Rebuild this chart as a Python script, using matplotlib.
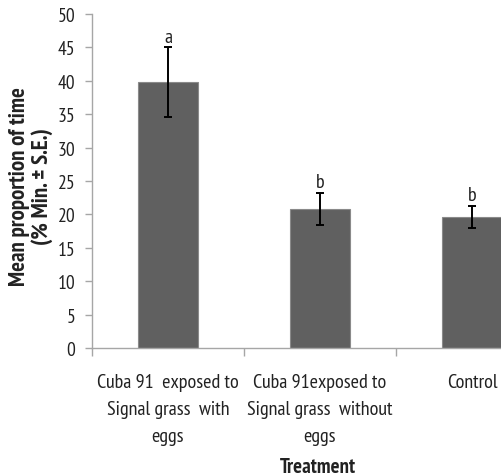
import matplotlib
matplotlib.use("Agg")
import matplotlib.pyplot as plt
from matplotlib import font_manager
import numpy as np

# Treatment groups, mean proportion of time and standard errors
categories = ["Cuba 91  exposed to\nSignal grass  with\neggs",
              "Cuba 91exposed to\nSignal grass  without\neggs",
              "Control"]
means = [39.8, 20.8, 19.6]
errors = [5.2, 2.4, 1.7]
letters = ["a", "b", "b"]
yticks = [0, 5, 10, 15, 20, 25, 30, 35, 40, 45, 50]

# narrow humanist sans for all text
available = {f.name for f in font_manager.fontManager.ttflist}
face = next((n for n in ["PT Sans Narrow", "Open Sans Condensed", "Roboto Condensed",
                         "Carlito"] if n in available), "DejaVu Sans")
plt.rcParams['font.family'] = [face, 'DejaVu Sans']

TXT = "#222222"
W, H = 502, 477
fig = plt.figure(figsize=(W / 100, H / 100), dpi=100)
fig.patch.set_facecolor("white")
ax = fig.add_axes([92 / W, 128 / H, 456 / W, 334 / H])

x = np.arange(len(categories))
ax.bar(x, means, width=0.4, color="#606060", edgecolor="#8a8a8a", linewidth=0.8, zorder=2)
ax.errorbar(x, means, yerr=errors, fmt="none", ecolor="black", elinewidth=1.4,
            capsize=2.8, capthick=1.4, zorder=3)
for xi, m, e, t in zip(x, means, errors, letters):
    ax.text(xi, m + e + 0.85, t, ha="center", va="baseline", fontsize=14.5, color=TXT)

ax.set_xlim(-0.5, 2.5)
ax.set_ylim(0, 50)
ax.set_yticks(yticks)
ax.set_yticklabels([str(v) for v in yticks], fontsize=14, color=TXT)
ax.set_xticks(x)
ax.set_xticklabels(categories, fontsize=14.5, linespacing=1.65, va="top", color=TXT)
ax.set_xticks(np.arange(-0.5, 3.0, 1.0), minor=True)
ax.tick_params(axis="x", which="major", length=0, pad=18)
ax.tick_params(axis="x", which="minor", length=6, color="#a6a6a6", width=1)
ax.tick_params(axis="y", length=5, color="#a6a6a6", width=1, pad=7)

for s in ["top", "right"]:
    ax.spines[s].set_visible(False)
for s in ["left", "bottom"]:
    ax.spines[s].set_color("#a6a6a6")
    ax.spines[s].set_linewidth(1)

ax.set_ylabel("Mean proportion of time\n(% Min. ± S.E.)", fontsize=16.5,
              fontweight="bold", linespacing=1.1, color=TXT, va="center")
ax.yaxis.set_label_coords((31 - 92) / 456, (349 - 187) / 334)
ax.set_xlabel("Treatment", fontsize=15, fontweight="bold", color=TXT, va="center")
ax.xaxis.set_label_coords((318 - 92) / 456, -(468 - 349) / 334)

fig.savefig("out.png", dpi=100)
